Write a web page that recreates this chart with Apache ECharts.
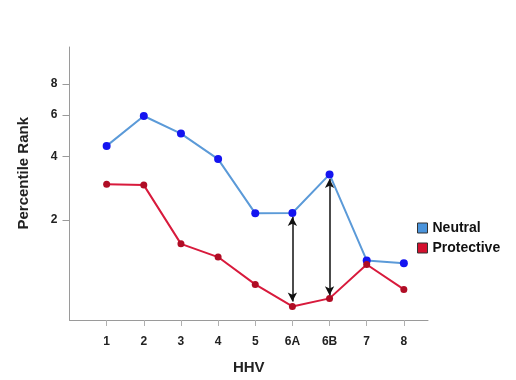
<!DOCTYPE html>
<html><head><meta charset="utf-8">
<script src="https://cdn.jsdelivr.net/npm/echarts@6/dist/echarts.min.js"></script>
<style>html,body{margin:0;padding:0;background:#fff}#c{width:516px;height:380px}</style>
</head><body><div id="c"></div>
<script>
const categories = ['1','2','3','4','5','6A','6B','7','8'];
const neutral = [4.45, 5.94, 5.02, 3.90, 2.16, 2.17, 3.33, 1.16, 1.11];
const protective = [3.00, 2.97, 1.47, 1.22, 0.78, 0.49, 0.59, 1.09, 0.71];
const yTicks = [2, 4, 6, 8];
// arrows: [category, upper end, lower end]
const arrowCats = ['6A', '6B'];
const arrowTop = [2.07, 3.17];
const arrowBottom = [0.55, 0.63];

const tf = v => Math.log(v + 1);
const xIdx = c => categories.indexOf(c) + 1;
const font = '"Liberation Sans", Arial, sans-serif';

const chart = echarts.init(document.getElementById('c'));
chart.setOption({
  animation: false,
  grid: { left: 69.5, right: 88, top: 47, bottom: 58 },
  xAxis: {
    type: 'value', min: 0, max: 9.65,
    axisLine: { show: true, lineStyle: { color: '#9a9a9a', width: 1 } },
    axisTick: { show: true, length: 6, inside: false, customValues: categories.map((c, i) => i + 1), lineStyle: { color: '#b0b0b0' } },
    axisLabel: { customValues: categories.map((c, i) => i + 1), formatter: v => categories[Math.round(v) - 1] || '', margin: 16, color: '#222', fontSize: 12, fontWeight: 'bold', fontFamily: font },
    splitLine: { show: false },
    name: 'HHV', nameLocation: 'middle', nameGap: 40,
    nameTextStyle: { fontSize: 15, fontWeight: 'bold', color: '#222', fontFamily: font }
  },
  yAxis: {
    type: 'value', min: 0.2891, max: 2.4946,
    axisLine: { show: true, lineStyle: { color: '#9a9a9a', width: 1 } },
    axisTick: { show: true, length: 7, customValues: yTicks.map(tf), lineStyle: { color: '#9a9a9a' } },
    axisLabel: { customValues: yTicks.map(tf), formatter: v => String(Math.round(Math.exp(v) - 1)), margin: 12, color: '#222', fontSize: 12, fontWeight: 'bold', fontFamily: font },
    splitLine: { show: false }
  },
  graphic: [{
    type: 'text', left: 16, top: 117, rotation: Math.PI / 2,
    style: { text: 'Percentile Rank', fill: '#222', font: 'bold 15px "Liberation Sans", Arial, sans-serif' }
  }],
  legend: {
    orient: 'vertical', left: 412, top: 216, itemGap: 6, itemWidth: 10, itemHeight: 10, icon: 'rect',
    textStyle: { fontSize: 14, fontWeight: 'bold', color: '#111', fontFamily: font },
    data: [
      { name: 'Neutral', itemStyle: { color: '#4a94dc', borderColor: '#333', borderWidth: 1 } },
      { name: 'Protective', itemStyle: { color: '#d4102e', borderColor: '#333', borderWidth: 1 } }
    ]
  },
  series: [
    {
      name: 'Neutral', type: 'line',
      data: neutral.map((v, i) => [i + 1, tf(v)]),
      symbol: 'circle', symbolSize: 8,
      lineStyle: { color: '#5b9ad8', width: 2 },
      itemStyle: { color: '#1414f0' }
    },
    {
      name: 'Protective', type: 'line',
      data: protective.map((v, i) => [i + 1, tf(v)]),
      symbol: 'circle', symbolSize: 7,
      lineStyle: { color: '#d81a3c', width: 2 },
      itemStyle: { color: '#b00d25' }
    },
    {
      name: 'arrows', type: 'line', data: [],
      markLine: {
        silent: true, symbol: ['arrow', 'arrow'], symbolSize: [7, 9],
        lineStyle: { color: '#111', width: 1.5, type: 'solid' },
        label: { show: false },
        data: arrowCats.map((c, i) => [
          { coord: [xIdx(c), tf(arrowTop[i])] },
          { coord: [xIdx(c), tf(arrowBottom[i])] }
        ])
      }
    }
  ]
});
</script>
</body></html>
